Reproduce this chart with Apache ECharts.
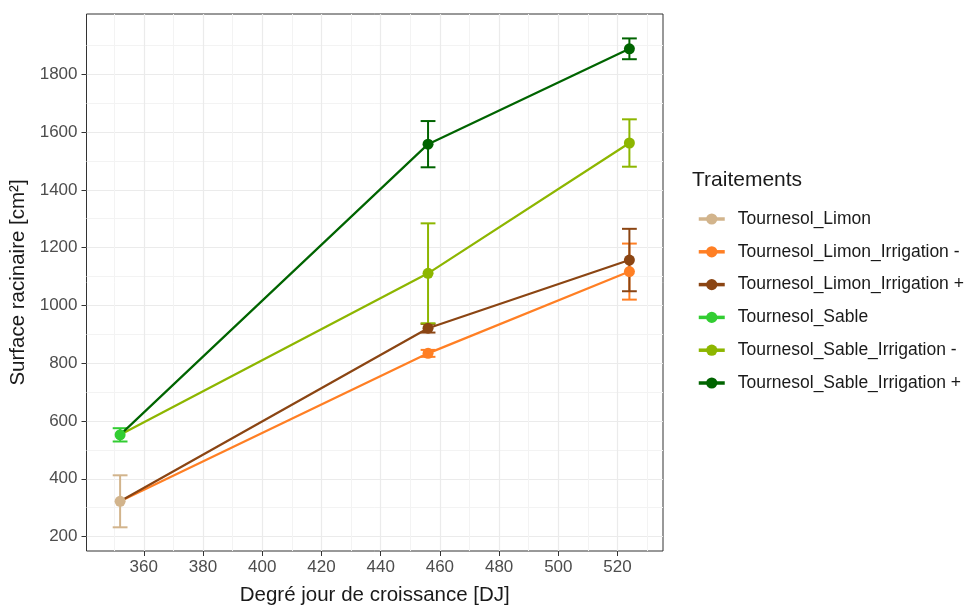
<!DOCTYPE html>
<html><head><meta charset="utf-8">
<script src="https://cdn.jsdelivr.net/npm/echarts@6/dist/echarts.min.js"></script>
<style>html,body{margin:0;padding:0;background:#fff}#c{width:971px;height:606px}</style>
</head><body><div id="c"></div>
<script>
// ---- data ----
const treatments = ['Tournesol_Limon', 'Tournesol_Limon_Irrigation -', 'Tournesol_Limon_Irrigation +', 'Tournesol_Sable', 'Tournesol_Sable_Irrigation -', 'Tournesol_Sable_Irrigation +'];
const degreeDays = [352, 456, 524];
const limonMean = [322];
const limonErr = [90];
const limonIrrMinusMean = [322, 834, 1117];
const limonIrrMinusErr = [null, 12, 97];
const limonIrrPlusMean = [322, 921, 1157];
const limonIrrPlusErr = [null, 15, 108];
const sableMean = [552];
const sableErr = [23];
const sableIrrMinusMean = [552, 1111, 1562];
const sableIrrMinusErr = [null, 173, 82];
const sableIrrPlusMean = [552, 1558, 1888];
const sableIrrPlusErr = [null, 80, 36];
const xTicks = [360, 380, 400, 420, 440, 460, 480, 500, 520];
const yTicks = [200, 400, 600, 800, 1000, 1200, 1400, 1600, 1800];

const means = [limonMean, limonIrrMinusMean, limonIrrPlusMean, sableMean, sableIrrMinusMean, sableIrrPlusMean];
const errs = [limonErr, limonIrrMinusErr, limonIrrPlusErr, sableErr, sableIrrMinusErr, sableIrrPlusErr];
const colors = ['#D2B48C', '#FF7F24', '#8B4513', '#32CD32', '#8DB600', '#006400'];
const FONT = '"Liberation Sans", Arial, sans-serif';
const capHalf = 2.5;

const series = [];
treatments.forEach((name, i) => {
  const data = [];
  means[i].forEach((m, j) => { if (errs[i][j] != null) data.push([degreeDays[j], m, errs[i][j]]); });
  series.push({
    type: 'custom', name: name + ' err', z: 1, silent: true,
    data: data, encode: { x: 0, y: 1 },
    renderItem: (params, api) => {
      const x = api.value(0), y = api.value(1), e = api.value(2);
      const t = api.coord([x, y + e]), b = api.coord([x, y - e]);
      const tl = api.coord([x - capHalf, y + e]), tr = api.coord([x + capHalf, y + e]);
      const bl = api.coord([x - capHalf, y - e]), br = api.coord([x + capHalf, y - e]);
      const st = { stroke: colors[i], lineWidth: 2, fill: null };
      return { type: 'group', children: [
        { type: 'line', shape: { x1: t[0], y1: t[1], x2: b[0], y2: b[1] }, style: st },
        { type: 'line', shape: { x1: tl[0], y1: tl[1], x2: tr[0], y2: tr[1] }, style: st },
        { type: 'line', shape: { x1: bl[0], y1: bl[1], x2: br[0], y2: br[1] }, style: st }
      ]};
    }
  });
});
treatments.forEach((name, i) => {
  const shared = means[i].length > 1;
  const data = means[i].map((m, j) => (shared && j === 0) ? { value: [degreeDays[j], m], symbol: 'none' } : { value: [degreeDays[j], m] });
  series.push({
    type: 'line', name: name, z: 2,
    data: data, symbol: 'circle', symbolSize: 11, showSymbol: true,
    lineStyle: { color: colors[i], width: 2.2 },
    itemStyle: { color: colors[i] },
    emphasis: { disabled: true }, animation: false
  });
});

const chart = echarts.init(document.getElementById('c'), null, { renderer: 'canvas' });
chart.setOption({
  animation: false,
  backgroundColor: '#fff',
  textStyle: { fontFamily: FONT },
  title: { text: 'Traitements', left: 692, top: 170, padding: 0, textStyle: { fontFamily: FONT, fontSize: 21, fontWeight: 'normal', color: '#1a1a1a' } },
  legend: {
    data: treatments, orient: 'vertical', left: 697, top: 210, padding: 0,
    itemWidth: 26, itemHeight: 14, itemGap: 14.8,
    lineStyle: { width: 3.5 },
    textStyle: { fontFamily: FONT, fontSize: 17.5, color: '#1a1a1a', padding: [0, 0, 0, 8] }
  },
  grid: { left: 86.5, right: 308, top: 14, bottom: 55, outerBoundsMode: 'none', containLabel: false, show: true, borderColor: '#333', borderWidth: 1, backgroundColor: 'transparent' },
  xAxis: {
    type: 'value', min: 340.65, max: 535.35, splitNumber: 10,
    name: 'Degré jour de croissance [DJ]', nameLocation: 'middle', nameGap: 34,
    nameTextStyle: { fontFamily: FONT, fontSize: 20.5, color: '#1a1a1a' },
    axisLine: { show: false },
    axisTick: { show: true, length: 5, lineStyle: { color: '#333' }, customValues: xTicks },
    axisLabel: { fontFamily: FONT, fontSize: 17, color: '#4d4d4d', margin: 8, customValues: xTicks, formatter: v => String(v) },
    splitLine: { show: true, lineStyle: { color: '#EBEBEB', width: 1.2 } },
    minorTick: { show: false, splitNumber: 2 },
    minorSplitLine: { show: true, lineStyle: { color: '#F3F3F3', width: 1 } }
  },
  yAxis: {
    type: 'value', min: 150, max: 2008.5, splitNumber: 9,
    name: 'Surface racinaire [cm²]', nameLocation: 'middle', nameGap: 54, nameRotate: 90,
    nameTextStyle: { fontFamily: FONT, fontSize: 20.5, color: '#1a1a1a' },
    axisLine: { show: false },
    axisTick: { show: true, length: 5, lineStyle: { color: '#333' }, customValues: yTicks },
    axisLabel: { fontFamily: FONT, fontSize: 17, color: '#4d4d4d', margin: 9, customValues: yTicks, formatter: v => String(v) },
    splitLine: { show: true, lineStyle: { color: '#EBEBEB', width: 1.2 } },
    minorTick: { show: false, splitNumber: 2 },
    minorSplitLine: { show: true, lineStyle: { color: '#F3F3F3', width: 1 } }
  },
  series: series
});
</script></body></html>
